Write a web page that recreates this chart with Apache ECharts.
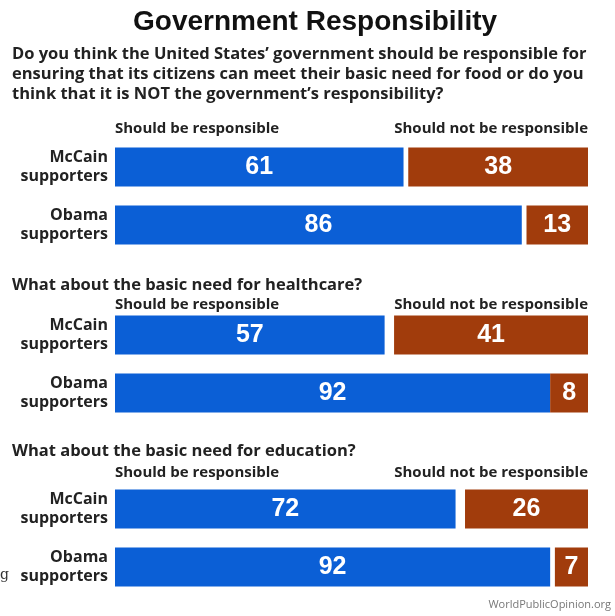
<!DOCTYPE html>
<html>
<head>
<meta charset="utf-8">
<script src="https://cdn.jsdelivr.net/npm/echarts@6/dist/echarts.min.js"></script>
<style>
html,body{margin:0;padding:0;background:#fff;}
#c{width:615px;height:616px;}
</style>
</head>
<body>
<div id="c"></div>
<script>
const categories = ['McCain\nsupporters', 'Obama\nsupporters'];
const topics = ['food', 'healthcare', 'education'];
const shouldBe = {
  food: [61, 86],
  healthcare: [57, 92],
  education: [72, 92]
};
const shouldNot = {
  food: [38, 13],
  healthcare: [41, 8],
  education: [26, 7]
};
const titleText = 'Government Responsibility';
const questions = [
  "Do you think the United States\u2019 government should be responsible for\nensuring that its citizens can meet their basic need for food or do you\nthink that it is NOT the government\u2019s responsibility?",
  'What about the basic need for healthcare?',
  'What about the basic need for education?'
];
const legendLeft = 'Should be responsible';
const legendRight = 'Should not be responsible';
const source = 'WorldPublicOpinion.org';

const FONT = '"Open Sans", "Liberation Sans", Arial, sans-serif';
const LIB = '"Liberation Sans", Arial, sans-serif';
const BLUE = '#0b5fd6';
const BROWN = '#a13c0c';
const gridTops = [138, 306, 480];
const questionY = [44, 275, 441];
const legendY = [121, 297, 465];

const grids = [], xAxes = [], yAxes = [], series = [], graphics = [];
topics.forEach((t, i) => {
  grids.push({left: 115, right: 27, top: gridTops[i], height: 116});
  xAxes.push({gridIndex: i, type: 'value', min: 0, max: 100, show: false});
  yAxes.push({
    gridIndex: i, type: 'category', data: categories, inverse: true,
    axisLine: {show: false}, axisTick: {show: false},
    axisLabel: {fontFamily: FONT, fontSize: 16, fontWeight: 'bold', color: '#222', lineHeight: 19, margin: 7, padding: [4, 0, 0, 0]}
  });
  const gap = shouldBe[t].map((v, k) => 100 - v - shouldNot[t][k]);
  const lbl = {show: true, position: 'inside', color: '#fff', fontFamily: LIB, fontSize: 25, fontWeight: 'bold'};
  series.push({
    type: 'bar', xAxisIndex: i, yAxisIndex: i, stack: 's' + i, barWidth: 39,
    data: shouldBe[t], itemStyle: {color: BLUE}, label: lbl, silent: true
  });
  series.push({
    type: 'bar', xAxisIndex: i, yAxisIndex: i, stack: 's' + i, barWidth: 39,
    data: gap, itemStyle: {color: 'rgba(0,0,0,0)'}, silent: true
  });
  series.push({
    type: 'bar', xAxisIndex: i, yAxisIndex: i, stack: 's' + i, barWidth: 39,
    data: shouldNot[t], itemStyle: {color: BROWN}, label: lbl, silent: true
  });
  graphics.push({
    type: 'text', left: 12, top: questionY[i],
    style: {text: questions[i], font: 'bold 16.5px ' + FONT, fill: '#222', lineHeight: 20}
  });
  graphics.push({
    type: 'text', left: 115, top: legendY[i],
    style: {text: legendLeft, font: 'bold 15px ' + FONT, fill: '#222'}
  });
  graphics.push({
    type: 'text', right: 27, top: legendY[i],
    style: {text: legendRight, font: 'bold 15px ' + FONT, fill: '#222'}
  });
});
graphics.push({
  type: 'text', left: 133, top: 8,
  style: {text: titleText, font: 'bold 28px ' + LIB, fill: '#111'}
});
graphics.push({
  type: 'text', right: 4, top: 599,
  style: {text: source, font: '11px ' + FONT, fill: '#777'}
});
graphics.push({
  type: 'text', left: 0, top: 568,
  style: {text: 'g', font: '14px "DejaVu Serif", serif', fill: '#333'}
});

const chart = echarts.init(document.getElementById('c'), null, {renderer: 'canvas'});
chart.setOption({
  animation: false,
  backgroundColor: '#fff',
  grid: grids, xAxis: xAxes, yAxis: yAxes, series: series,
  graphic: graphics
});
</script>
</body>
</html>
